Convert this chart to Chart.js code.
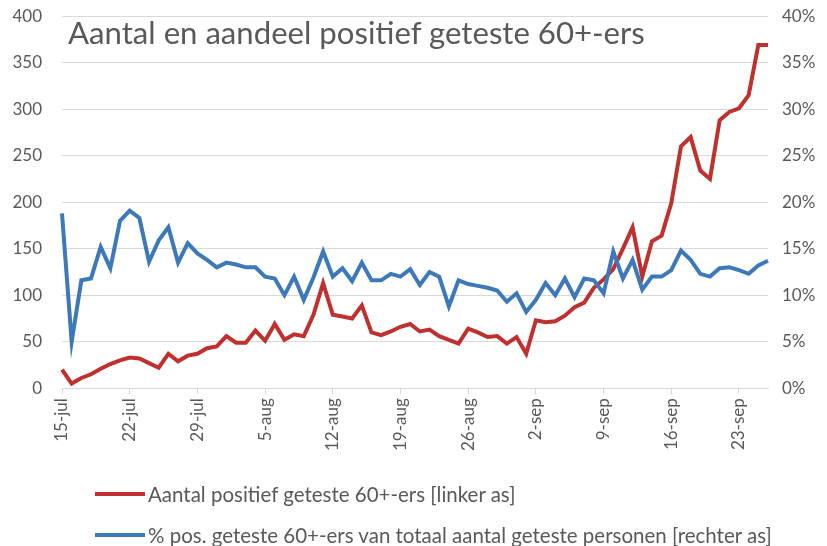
<!DOCTYPE html>
<html lang="nl">
<head>
    <meta charset="UTF-8">
    <title>Aantal en aandeel positief geteste 60+-ers</title>
    <style>
        body {
            margin: 0;
            background: #fff;
            font-family: Lato, "Open Sans", sans-serif;
        }
        #wrap {
            position: relative;
            width: 827px;
            height: 546px;
            overflow: hidden;
        }
        #chart {
            position: absolute;
            left: 0;
            top: -14px;
        }
        #title {
            position: absolute;
            left: 68px;
            top: 17px;
            font-size: 28px;
            color: #595959;
            white-space: nowrap;
            line-height: 1;
        }
        .legend-item {
            position: absolute;
            left: 95px;
            white-space: nowrap;
            display: flex;
            align-items: center;
            color: #595959;
        }
        .legend-item .swatch {
            width: 50px;
            height: 4px;
            margin-right: 3px;
        }
        .legend-item .txt {
            font-size: 18px;
            line-height: 1;
        }
    </style>
    <script src="https://cdn.jsdelivr.net/npm/chart.js"></script>
</head>
<body>
<div id="wrap">
    <canvas id="chart" width="827" height="560"></canvas>
    <div id="title">Aantal en aandeel positief geteste 60+-ers</div>
    <div class="legend-item" id="leg1" style="top:484px"><span class="swatch" style="background:#c0302f"></span><span class="txt">Aantal positief geteste 60+-ers [linker as]</span></div>
    <div class="legend-item" id="leg2" style="top:525px"><span class="swatch" style="background:#3d79b9"></span><span class="txt">% pos. geteste 60+-ers van totaal aantal geteste personen [rechter as]</span></div>
</div>

<script>
    // dagen 15 juli t/m 26 september
    var dagen = [
        '15-jul','16-jul','17-jul','18-jul','19-jul','20-jul','21-jul','22-jul','23-jul','24-jul','25-jul','26-jul','27-jul','28-jul','29-jul','30-jul','31-jul',
        '1-aug','2-aug','3-aug','4-aug','5-aug','6-aug','7-aug','8-aug','9-aug','10-aug','11-aug','12-aug','13-aug','14-aug','15-aug','16-aug',
        '17-aug','18-aug','19-aug','20-aug','21-aug','22-aug','23-aug','24-aug','25-aug','26-aug','27-aug','28-aug','29-aug','30-aug','31-aug',
        '1-sep','2-sep','3-sep','4-sep','5-sep','6-sep','7-sep','8-sep','9-sep','10-sep','11-sep','12-sep','13-sep','14-sep','15-sep','16-sep',
        '17-sep','18-sep','19-sep','20-sep','21-sep','22-sep','23-sep','24-sep','25-sep','26-sep'
    ];

    // aantal positief geteste 60+-ers (linker as)
    var aantalPositief = [
        20, 5, 11, 15, 21, 26, 30, 33, 32, 27, 22, 37, 29, 35, 37, 43, 45,
        56, 49, 49, 62, 51, 69, 52, 58, 56, 79, 113, 79, 77, 75, 89, 60,
        57, 61, 66, 69, 61, 63, 56, 52, 48, 64, 60, 55, 56, 48, 55,
        37, 73, 71, 72, 78, 87, 92, 108, 117, 128, 150, 173, 120, 158, 164, 199,
        260, 270, 234, 225, 288, 297, 301, 315, 369, 369
    ];

    // % positief van totaal aantal geteste 60+-ers (rechter as)
    var aandeelPositief = [
        18.8, 5.0, 11.6, 11.8, 15.2, 12.9, 18.0, 19.1, 18.3, 13.6, 15.9, 17.3, 13.5, 15.6, 14.5, 13.8, 13.0,
        13.5, 13.3, 13.0, 13.0, 12.0, 11.8, 10.0, 12.0, 9.5, 11.9, 14.7, 12.0, 12.9, 11.5, 13.5, 11.6,
        11.6, 12.3, 12.0, 12.8, 11.1, 12.5, 12.0, 8.8, 11.6, 11.2, 11.0, 10.8, 10.5, 9.3, 10.2,
        8.2, 9.5, 11.3, 10.0, 11.8, 9.8, 11.8, 11.6, 10.2, 14.7, 11.8, 13.8, 10.6, 12.0, 12.0, 12.7,
        14.8, 13.8, 12.3, 12.0, 12.9, 13.0, 12.7, 12.3, 13.2, 13.7
    ];

    var tekstKleur = '#595959';
    var rasterKleur = '#d9d9d9';

    Chart.defaults.font.family = 'Lato, "Open Sans", sans-serif';
    Chart.defaults.font.size = 17;
    Chart.defaults.color = tekstKleur;

    var ctx = document.getElementById('chart').getContext('2d');
    var chart = new Chart(ctx, {
        type: 'line',
        data: {
            labels: dagen,
            datasets: [{
                label: 'Aantal positief geteste 60+-ers [linker as]',
                data: aantalPositief,
                yAxisID: 'y',
                borderColor: '#c0302f',
                borderWidth: 4,
                pointRadius: 0,
                tension: 0,
                order: 1
            }, {
                label: '% pos. geteste 60+-ers van totaal aantal geteste personen [rechter as]',
                data: aandeelPositief,
                yAxisID: 'y1',
                borderColor: '#3d79b9',
                borderWidth: 4,
                pointRadius: 0,
                tension: 0,
                order: 0
            }]
        },
        options: {
            responsive: false,
            animation: false,
            layout: {
                padding: { top: -4, bottom: 91, left: 0, right: 0 }
            },
            plugins: {
                legend: { display: false },
                tooltip: { enabled: false }
            },
            scales: {
                x: {
                    offset: false,
                    border: { color: rasterKleur },
                    grid: {
                        drawOnChartArea: false,
                        tickLength: 6,
                        color: function (c) {
                            return c.index % 7 === 0 ? rasterKleur : 'rgba(0,0,0,0)';
                        }
                    },
                    ticks: {
                        autoSkip: false,
                        maxRotation: 90,
                        minRotation: 90,
                        padding: 4,
                        callback: function (v, i) {
                            return i % 7 === 0 ? dagen[i] : '';
                        }
                    }
                },
                y: {
                    position: 'left',
                    min: 0,
                    max: 400,
                    border: { display: false },
                    grid: { color: rasterKleur, drawTicks: false },
                    ticks: { stepSize: 50, padding: 20 },
                    afterFit: function (s) { s.width = 62; }
                },
                y1: {
                    position: 'right',
                    min: 0,
                    max: 40,
                    border: { display: false },
                    grid: { drawOnChartArea: false, drawTicks: false },
                    ticks: {
                        stepSize: 5,
                        padding: 14,
                        callback: function (v) { return v + '%'; }
                    },
                    afterFit: function (s) { s.width = 59; }
                }
            }
        }
    });

    // tekstbreedte gelijk maken aan het origineel
    function pasBreedte(el, doel) {
        var w = el.getBoundingClientRect().width;
        var fs = parseFloat(getComputedStyle(el).fontSize);
        var nieuw = fs * doel / w;
        el.style.fontSize = nieuw + 'px';
        return nieuw;
    }
    pasBreedte(document.getElementById('title'), 577);
    var legFs = pasBreedte(document.querySelector('#leg2 .txt'), 624);
    document.querySelector('#leg1 .txt').style.fontSize = legFs + 'px';
</script>
</body>
</html>
